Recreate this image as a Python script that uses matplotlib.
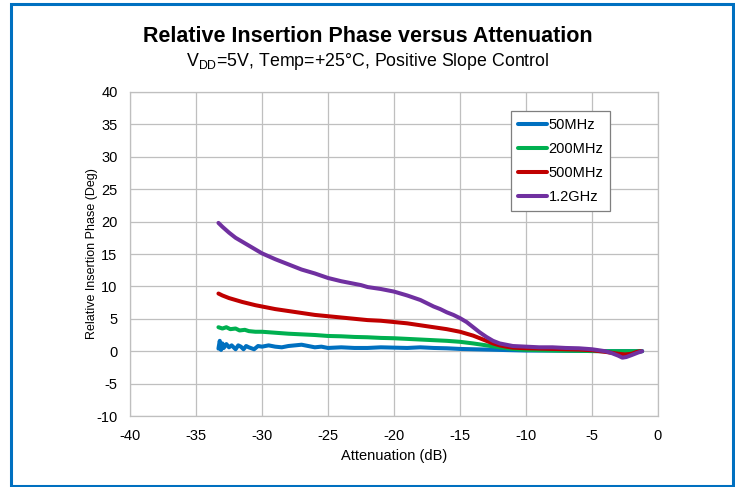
import matplotlib
matplotlib.use("Agg")
import matplotlib.pyplot as plt
from matplotlib.patches import Rectangle

plt.rcParams['font.family'] = ['Liberation Sans', 'DejaVu Sans']
plt.rcParams['mathtext.fontset'] = 'custom'
plt.rcParams['mathtext.rm'] = 'Liberation Sans'
plt.rcParams['axes.unicode_minus'] = False

# 50 MHz
x_50 = [-33.3, -33.2, -33.1, -33.0, -32.9, -32.7, -32.5, -32.3, -32.0, -31.8, -31.6, -31.4,
        -31.2, -31.0, -30.6, -30.3, -30.0, -29.5, -29.0, -28.5, -28.0, -27.5, -27.0, -26.5,
        -26.0, -25.5, -25.0, -24, -23, -22, -21, -20, -19, -18, -17, -16, -15, -14, -13,
        -12, -11, -10, -8, -6, -4, -2, -1.2]
y_50 = [0.4, 1.6, 0.2, 1.2, 0.5, 1.1, 0.6, 0.9, 0.3, 0.9, 0.7, 0.3,
        0.8, 0.6, 0.3, 0.8, 0.7, 0.9, 0.7, 0.6, 0.8, 0.9, 1.0, 0.8,
        0.6, 0.7, 0.5, 0.6, 0.5, 0.5, 0.6, 0.55, 0.5, 0.6, 0.5, 0.45, 0.35, 0.3, 0.25,
        0.2, 0.15, 0.1, 0.1, 0.05, 0.0, 0.0, 0.0]

# 200 MHz
x_200 = [-33.3, -33.0, -32.7, -32.4, -32.0, -31.7, -31.3, -31.0, -30.5, -30, -29, -28, -27,
         -26, -25, -24, -23, -22, -21, -20, -19, -18, -17, -16, -15, -14, -13, -12, -11,
         -10, -8, -6, -4, -2, -1.2]
y_200 = [3.7, 3.5, 3.7, 3.4, 3.5, 3.2, 3.3, 3.1, 3.0, 3.0, 2.85, 2.7, 2.6,
         2.5, 2.35, 2.3, 2.2, 2.15, 2.05, 2.0, 1.9, 1.8, 1.7, 1.6, 1.45, 1.2, 0.9, 0.6, 0.35,
         0.2, 0.1, 0.05, 0.0, 0.0, 0.0]

# 500 MHz
x_500 = [-33.3, -33.0, -32.5, -32.0, -31.5, -30.5, -30, -29, -28, -27, -26, -25, -24, -23,
         -22, -21, -20, -19, -18, -17, -16, -15, -14.5, -14, -13.5, -13, -12.5, -12, -11.5,
         -11, -10, -9, -8, -7, -6, -5, -4, -3, -2.5, -2, -1.6, -1.3]
y_500 = [8.9, 8.6, 8.2, 7.9, 7.6, 7.1, 6.9, 6.5, 6.2, 5.9, 5.6, 5.4, 5.2, 5.0,
         4.8, 4.7, 4.5, 4.3, 4.0, 3.7, 3.4, 3.0, 2.7, 2.4, 2.0, 1.6, 1.2, 0.9, 0.7,
         0.55, 0.45, 0.4, 0.35, 0.3, 0.25, 0.15, -0.1, -0.4, -0.5, -0.4, -0.1, 0.0]

# 1.2 GHz
x_1g2 = [-33.3, -33.0, -32.5, -32.0, -31.5, -30.5, -30, -29, -28, -27.5, -27, -26, -25, -24,
         -23, -22.5, -22, -21, -20, -19, -18, -17.5, -17, -16.5, -16, -15.5, -15, -14.5, -14,
         -13.5, -13, -12.5, -12, -11.5, -11, -10, -9, -8, -7, -6, -5, -4, -3.5, -3, -2.7,
         -2.4, -2, -1.5, -1.2]
y_1g2 = [19.8, 19.2, 18.3, 17.5, 16.9, 15.7, 15.1, 14.2, 13.4, 13.0, 12.6, 12.0, 11.3, 10.8,
         10.4, 10.2, 9.9, 9.6, 9.2, 8.6, 7.9, 7.4, 6.9, 6.5, 6.0, 5.6, 5.1, 4.5, 3.7,
         2.9, 2.2, 1.6, 1.2, 1.0, 0.8, 0.7, 0.6, 0.6, 0.5, 0.45, 0.3, 0.0, -0.3, -0.7, -1.0,
         -0.9, -0.6, -0.2, 0.0]

series = [
    (x_50, y_50, '50MHz', '#0070C0'),
    (x_200, y_200, '200MHz', '#00B050'),
    (x_500, y_500, '500MHz', '#C00000'),
    (x_1g2, y_1g2, '1.2GHz', '#7030A0'),
]

fig = plt.figure(figsize=(7.35, 4.87), dpi=100)
ax = fig.add_axes([130 / 735, 1 - 416 / 487, 528 / 735, 324 / 487])

for xs, ys, lab, col in series:
    ax.plot(xs, ys, color=col, lw=2.9, label=lab, solid_capstyle='round',
            solid_joinstyle='round')

ax.set_xlim(-40, 0)
ax.set_ylim(-10, 40)
ax.set_xticks(range(-40, 1, 5))
ax.set_yticks(range(-10, 41, 5))
ax.grid(True, color='#BFBFBF', lw=0.9)
ax.set_axisbelow(True)
for s in ax.spines.values():
    s.set_color('#BFBFBF')
    s.set_linewidth(0.9)
ax.tick_params(length=0, labelsize=10.5, pad=9)

ax.set_xlabel('Attenuation (dB)', fontsize=10.5, labelpad=5)
ax.set_ylabel('Relative Insertion Phase (Deg)', fontsize=9, labelpad=-1)

leg = ax.legend(loc='upper left', bbox_to_anchor=(0.722, 0.941), borderaxespad=0,
                fancybox=False, edgecolor='#7F7F7F', fontsize=10.5, handlelength=2.0,
                handletextpad=0.1, labelspacing=0.7, borderpad=0.45, framealpha=1)
leg.get_frame().set_linewidth(0.9)

fig.text(0.5, 1 - 42 / 487, 'Relative Insertion Phase versus Attenuation',
         ha='center', va='baseline', fontsize=15.5, fontweight='bold')
fig.text(0.5, 1 - 66 / 487, r'$\mathregular{V_{DD}}$=5V, Temp=+25°C, Positive Slope Control',
         ha='center', va='baseline', fontsize=12.8)

fig.patches.append(Rectangle((11 / 735, 1 - 486 / 487), 722 / 735, 482 / 487,
                             transform=fig.transFigure, fill=False,
                             edgecolor='#0070C0', lw=2.2))

fig.savefig('out.png', dpi=100)
